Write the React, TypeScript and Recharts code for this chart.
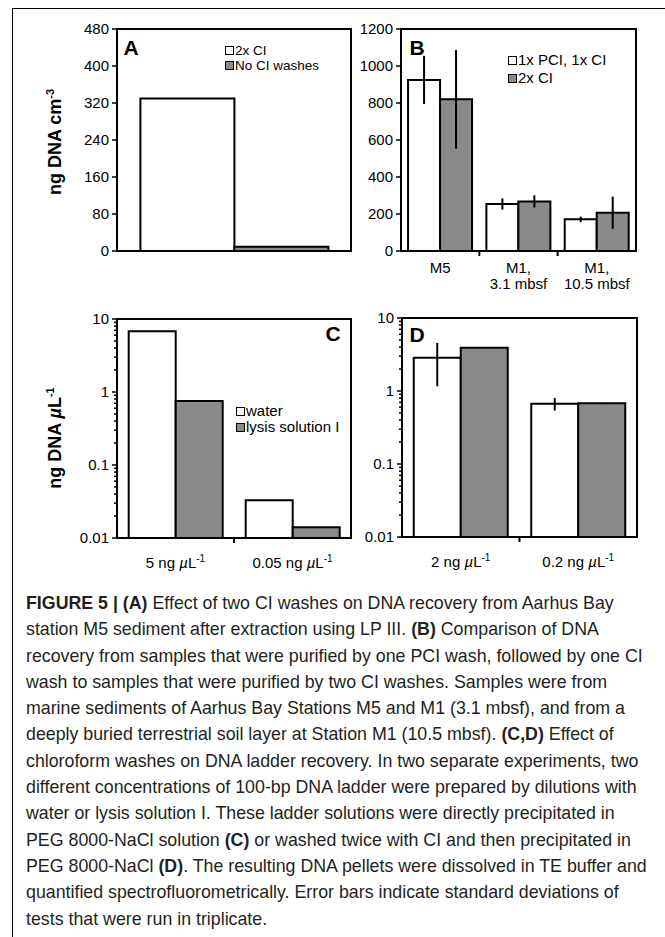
import React from "react";
import { BarChart, Bar, XAxis, YAxis, ErrorBar, Legend } from "recharts";

const FONT = '"Liberation Sans", Arial, Helvetica, sans-serif';
const GREY = "#8a8a8a";

// Panel A - DNA yield after two CI washes vs none (ng DNA cm-3)
const aCats = [""];
const aTwoCi = [330];
const aNoCi = [9];
const aTicks = [0, 80, 160, 240, 320, 400, 480];

// Panel B - 1x PCI + 1x CI vs 2x CI, with SD
const bCats = ["M5", "M1,\n3.1 mbsf", "M1,\n10.5 mbsf"];
const bPciCi = [925, 254, 171];
const bPciCiSd = [130, 30, 15];
const bTwoCi = [820, 268, 207];
const bTwoCiSd = [267, 33, 87];
const bTicks = [0, 200, 400, 600, 800, 1000, 1200];

// Panel C - ladder precipitated directly (ng DNA uL-1, log)
const cCats = ["5", "0.05"];
const cWater = [6.8, 0.033];
const cLysis = [0.75, 0.014];

// Panel D - ladder washed twice with CI (log), with SD
const dCats = ["2", "0.2"];
const dWater = [2.86, 0.67];
const dWaterSd = [1.7, 0.13];
const dLysis = [3.9, 0.68];
const dLysisSd = [0, 0.01];

const logMajor = [0.01, 0.1, 1, 10];
const logTicks = [
  0.01, 0.02, 0.03, 0.04, 0.05, 0.06, 0.07, 0.08, 0.09,
  0.1, 0.2, 0.3, 0.4, 0.5, 0.6, 0.7, 0.8, 0.9,
  1, 2, 3, 4, 5, 6, 7, 8, 9, 10,
];

const dataA = aCats.map((c, i) => ({ cat: c, a: aTwoCi[i], b: aNoCi[i] }));
const dataB = bCats.map((c, i) => ({
  cat: c, a: bPciCi[i], aSd: bPciCiSd[i], b: bTwoCi[i], bSd: bTwoCiSd[i],
}));
const dataC = cCats.map((c, i) => ({ cat: c, a: cWater[i], b: cLysis[i] }));
const dataD = dCats.map((c, i) => ({
  cat: c, a: dWater[i], aSd: dWaterSd[i], b: dLysis[i], bSd: dLysisSd[i],
}));

// chart placed so that its plot area lands on x0..x1 / y0..y1 of the page
const frame = (x0: number, y0: number, x1: number, y1: number) => ({
  style: { position: "absolute" as const, left: x0 - 100, top: y0 - 20 },
  width: x1 - x0 + 110,
  height: y1 - y0 + 100,
  margin: { top: 20, right: 10, bottom: 50, left: 40 },
});

// black box round the plot area (top and right edges of the frame)
const plotBox = (x0: number, y0: number, x1: number, y1: number) => (
  <div
    style={{
      position: "absolute", left: x0 - 1, top: y0 - 1, width: x1 - x0 - 2, height: y1 - y0 - 2,
      border: "2px solid #000", pointerEvents: "none",
    }}
  />
);

const LogTick = (p: any) => {
  const v = p.payload.value;
  const major = logMajor.includes(v);
  return (
    <g>
      <line x1={p.x - (major ? 5 : 3)} x2={p.x} y1={p.y} y2={p.y} stroke="#000" strokeWidth={1.5} />
      {major && (
        <text x={p.x - 8} y={p.y} dy="0.35em" textAnchor="end" fontSize={15} fontFamily={FONT} fill="#000">
          {v}
        </text>
      )}
    </g>
  );
};

const CatTick = (p: any) => {
  const { x, y, payload, index, band, kind } = p;
  const lines = String(payload.value).split("\n");
  return (
    <g>
      {index > 0 && (
        <line x1={x - band / 2} x2={x - band / 2} y1={y} y2={y + 5} stroke="#000" strokeWidth={2} />
      )}
      {kind === "conc" ? (
        <text x={x} y={y + 30} textAnchor="middle" fontSize={15} fontFamily={FONT} fill="#000">
          {payload.value} ng <tspan fontStyle="italic">µ</tspan>L
          <tspan dy={-6} fontSize={10}>-1</tspan>
        </text>
      ) : (
        lines.map((l: string, i: number) => (
          <text key={i} x={x} y={y + 22 + i * 15.5} textAnchor="middle" fontSize={15} fontFamily={FONT} fill="#000">
            {l}
          </text>
        ))
      )}
    </g>
  );
};

const LegendBox = (names: string[], fills: string[], gap: number, size = 15) => () => (
  <div style={{ fontFamily: FONT, fontSize: size, color: "#000", lineHeight: `${gap}px` }}>
    {names.map((n, i) => (
      <div key={n} style={{ display: "flex", alignItems: "center", whiteSpace: "nowrap", height: gap }}>
        <span
          style={{
            display: "inline-block", width: 7, height: 7, background: fills[i],
            border: "1.5px solid #000", marginRight: 1,
          }}
        />
        {n}
      </div>
    ))}
  </div>
);

const axisLine = { stroke: "#000", strokeWidth: 2 };
const yTick = { fontSize: 15, fill: "#000", fontFamily: FONT };

const panelLetter = (t: string, x: number, y: number) => (
  <div
    style={{
      position: "absolute", left: x, top: y, transform: "translate(-50%, -50%)",
      fontFamily: FONT, fontWeight: "bold", fontSize: 21, color: "#000",
    }}
  >
    {t}
  </div>
);

const yTitle = (main: React.ReactNode, x: number, y: number) => (
  <div
    style={{
      position: "absolute", left: x, top: y, transform: "translate(-50%, -50%) rotate(-90deg)",
      fontFamily: FONT, fontWeight: "bold", fontSize: 18, color: "#000", whiteSpace: "nowrap",
    }}
  >
    {main}
  </div>
);

const captionLines: React.ReactNode[] = [
  <><b>FIGURE 5 | (A)</b> Effect of two CI washes on DNA recovery from Aarhus Bay</>,
  <>station M5 sediment after extraction using LP III. <b>(B)</b> Comparison of DNA</>,
  <>recovery from samples that were purified by one PCI wash, followed by one CI</>,
  <>wash to samples that were purified by two CI washes. Samples were from</>,
  <>marine sediments of Aarhus Bay Stations M5 and M1 (3.1 mbsf), and from a</>,
  <>deeply buried terrestrial soil layer at Station M1 (10.5 mbsf). <b>(C,D)</b> Effect of</>,
  <>chloroform washes on DNA ladder recovery. In two separate experiments, two</>,
  <>different concentrations of 100-bp DNA ladder were prepared by dilutions with</>,
  <>water or lysis solution I. These ladder solutions were directly precipitated in</>,
  <>PEG 8000-NaCl solution <b>(C)</b> or washed twice with CI and then precipitated in</>,
  <>PEG 8000-NaCl <b>(D)</b>. The resulting DNA pellets were dissolved in TE buffer and</>,
  <>quantified spectrofluorometrically. Error bars indicate standard deviations of</>,
  <>tests that were run in triplicate.</>,
];

export default function App() {
  const fA = frame(117, 29, 351, 251);
  const fB = frame(401, 29, 636, 251);
  const fC = frame(117, 319, 351, 538);
  const fD = frame(402, 318, 637, 537);

  return (
    <div
      style={{
        position: "absolute", left: 0, top: 0, width: 665, height: 937,
        overflow: "hidden", background: "#fff",
      }}
    >
      <div
        style={{
          position: "absolute", left: 12, top: 8, width: 700, height: 1000,
          borderTop: "1.5px solid #000", borderLeft: "1.5px solid #000",
        }}
      />

      {/* A */}
      <BarChart {...fA} data={dataA} barCategoryGap="10%" barGap={0}>
        <XAxis dataKey="cat" height={30} axisLine={axisLine} tickLine={false} tick={false} />
        <YAxis
          domain={[0, 480]} ticks={aTicks} interval={0} width={60} tick={yTick}
          tickSize={5} tickMargin={3} tickLine={{ stroke: "#000", strokeWidth: 1.5 }} axisLine={axisLine}
        />
        <Legend
          layout="horizontal" verticalAlign="middle" align="center"
          wrapperStyle={{ left: 208, top: 33.5, width: 140 }}
          content={LegendBox(["2x CI", "No CI washes"], ["#fff", GREY], 15, 13.5)}
        />
        <Bar dataKey="a" name="2x CI" fill="#fff" stroke="#000" strokeWidth={2} isAnimationActive={false} />
        <Bar dataKey="b" name="No CI washes" fill={GREY} stroke="#000" strokeWidth={2} isAnimationActive={false} />
      </BarChart>

      {/* B */}
      <BarChart {...fB} data={dataB} barCategoryGap="9%" barGap={0}>
        <XAxis
          dataKey="cat" height={30} axisLine={axisLine} tickLine={false} tickSize={0} tickMargin={0} interval={0}
          tick={<CatTick band={(636 - 401) / 3} kind="site" />}
        />
        <YAxis
          domain={[0, 1200]} ticks={bTicks} interval={0} width={60} tick={yTick}
          tickSize={5} tickMargin={3} tickLine={{ stroke: "#000", strokeWidth: 1.5 }} axisLine={axisLine}
        />
        <Legend
          layout="horizontal" verticalAlign="middle" align="center"
          wrapperStyle={{ left: 207, top: 42, width: 140 }}
          content={LegendBox(["1x PCI, 1x CI", "2x CI"], ["#fff", GREY], 18)}
        />
        <Bar dataKey="a" name="1x PCI, 1x CI" fill="#fff" stroke="#000" strokeWidth={2} isAnimationActive={false}>
          <ErrorBar dataKey="aSd" width={0} stroke="#000" strokeWidth={2} direction="y" />
        </Bar>
        <Bar dataKey="b" name="2x CI" fill={GREY} stroke="#000" strokeWidth={2} isAnimationActive={false}>
          <ErrorBar dataKey="bSd" width={0} stroke="#000" strokeWidth={2} direction="y" />
        </Bar>
      </BarChart>

      {/* C */}
      <BarChart {...fC} data={dataC} barCategoryGap="10%" barGap={0}>
        <XAxis
          dataKey="cat" height={30} axisLine={axisLine} tickLine={false} tickSize={0} tickMargin={0} interval={0}
          tick={<CatTick band={(351 - 117) / 2} kind="conc" />}
        />
        <YAxis
          type="number" scale="log" domain={[0.01, 10]} allowDataOverflow ticks={logTicks} interval={0}
          width={60} tick={<LogTick />} tickLine={false} tickSize={0} tickMargin={0} axisLine={axisLine}
        />
        <Legend
          layout="horizontal" verticalAlign="middle" align="center"
          wrapperStyle={{ left: 219, top: 104, width: 140 }}
          content={LegendBox(["water", "lysis solution I"], ["#fff", GREY], 16)}
        />
        <Bar dataKey="a" name="water" fill="#fff" stroke="#000" strokeWidth={2} isAnimationActive={false} />
        <Bar dataKey="b" name="lysis solution I" fill={GREY} stroke="#000" strokeWidth={2} isAnimationActive={false} />
      </BarChart>

      {/* D */}
      <BarChart {...fD} data={dataD} barCategoryGap="10%" barGap={0}>
        <XAxis
          dataKey="cat" height={30} axisLine={axisLine} tickLine={false} tickSize={0} tickMargin={0} interval={0}
          tick={<CatTick band={(637 - 402) / 2} kind="conc" />}
        />
        <YAxis
          type="number" scale="log" domain={[0.01, 10]} allowDataOverflow ticks={logTicks} interval={0}
          width={60} tick={<LogTick />} tickLine={false} tickSize={0} tickMargin={0} axisLine={axisLine}
        />
        <Bar dataKey="a" name="water" fill="#fff" stroke="#000" strokeWidth={2} isAnimationActive={false}>
          <ErrorBar dataKey="aSd" width={0} stroke="#000" strokeWidth={2} direction="y" />
        </Bar>
        <Bar dataKey="b" name="lysis solution I" fill={GREY} stroke="#000" strokeWidth={2} isAnimationActive={false}>
          <ErrorBar dataKey="bSd" width={0} stroke="#000" strokeWidth={2} direction="y" />
        </Bar>
      </BarChart>

      {plotBox(117, 29, 351, 251)}
      {plotBox(401, 29, 636, 251)}
      {plotBox(117, 319, 351, 538)}
      {plotBox(402, 318, 637, 537)}

      {panelLetter("A", 131, 48)}
      {panelLetter("B", 417, 48)}
      {panelLetter("C", 333, 334)}
      {panelLetter("D", 417, 335)}

      {yTitle(<>ng DNA cm<sup style={{ fontSize: 11 }}>-3</sup></>, 55, 142)}
      {yTitle(<>ng DNA <i>µ</i>L<sup style={{ fontSize: 11 }}>-1</sup></>, 55, 438)}

      <div
        style={{
          position: "absolute", left: 26, top: 590, fontFamily: FONT, fontSize: 17.8,
          lineHeight: "26.3px", color: "#231f20", whiteSpace: "nowrap",
        }}
      >
        {captionLines.map((l, i) => (
          <div key={i}>{l}</div>
        ))}
      </div>
    </div>
  );
}
